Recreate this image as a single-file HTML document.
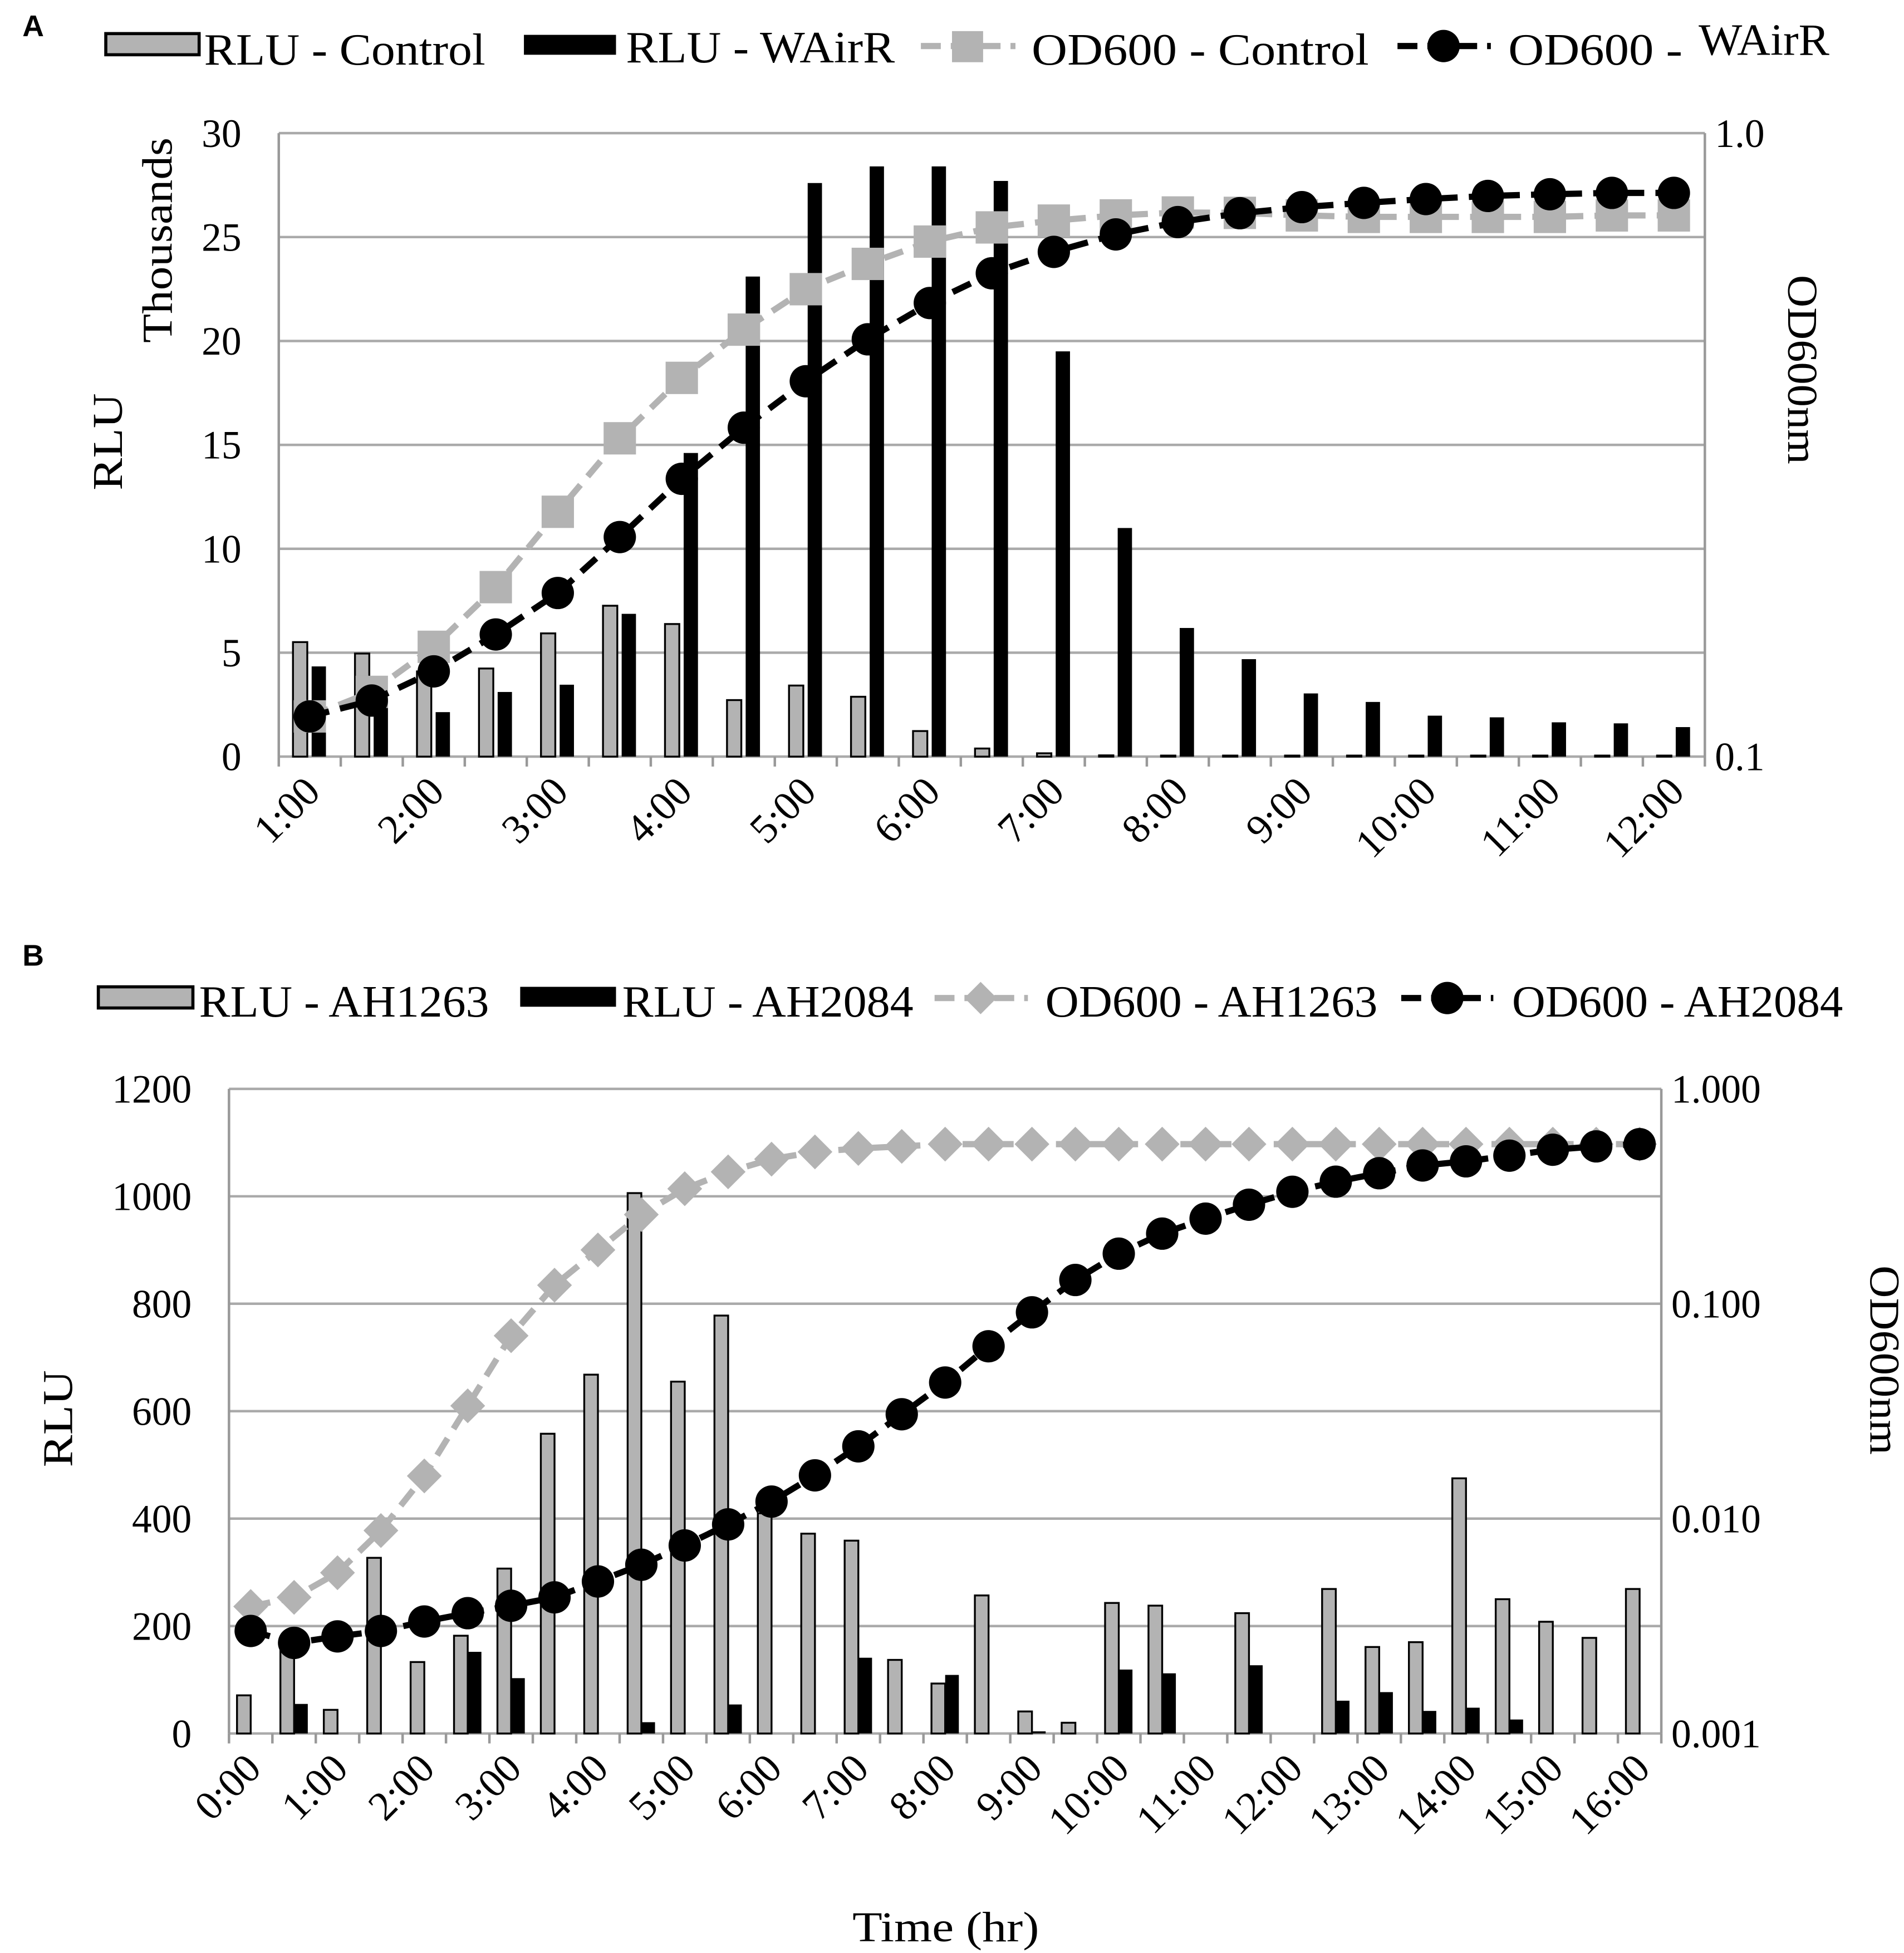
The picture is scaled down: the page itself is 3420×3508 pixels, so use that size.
<!DOCTYPE html>
<html><head><meta charset="utf-8"><style>
html,body{margin:0;padding:0;background:#fff}
svg{display:block}
text{font-family:"Liberation Serif",serif;fill:#000}
</style></head><body>
<svg id="fig" xmlns="http://www.w3.org/2000/svg" width="3420" height="3508" viewBox="0 0 1530 1569.4">
<rect width="1530" height="1569.4" fill="#fff"/>
<text x="18" y="29" style="font-family:'Liberation Sans',sans-serif;font-weight:bold;font-size:24px">A</text>
<text x="18" y="776" style="font-family:'Liberation Sans',sans-serif;font-weight:bold;font-size:24px">B</text>
<g id="legA">
 <rect x="85" y="27" width="75" height="17" fill="#b3b3b3" stroke="#000" stroke-width="2.5"/>
 <text x="164" y="52" font-size="36" textLength="226" lengthAdjust="spacingAndGlyphs">RLU - Control</text>
 <rect x="421" y="28" width="74" height="16" fill="#000"/>
 <text x="503" y="50" font-size="36" textLength="216" lengthAdjust="spacingAndGlyphs">RLU -  WAirR</text>
 <line x1="740" y1="37" x2="816" y2="37" stroke="#b3b3b3" stroke-width="5" stroke-dasharray="16,8"/>
 <rect x="765" y="25" width="25" height="25" fill="#b3b3b3"/>
 <text x="829" y="52" font-size="36" textLength="271" lengthAdjust="spacingAndGlyphs">OD600 - Control</text>
 <line x1="1123" y1="37" x2="1198" y2="37" stroke="#000" stroke-width="5" stroke-dasharray="16,8"/>
 <circle cx="1160" cy="37" r="13" fill="#000"/>
 <text x="1212" y="52" font-size="36" textLength="140" lengthAdjust="spacingAndGlyphs">OD600 - </text>
 <text x="1365" y="44" font-size="36" textLength="105" lengthAdjust="spacingAndGlyphs">WAirR</text>
</g>
<g id="legB">
 <rect x="79" y="793" width="76" height="17" fill="#b3b3b3" stroke="#000" stroke-width="2.5"/>
 <text x="160" y="817" font-size="36" textLength="233" lengthAdjust="spacingAndGlyphs">RLU - AH1263</text>
 <rect x="418" y="793" width="77" height="16" fill="#000"/>
 <text x="500" y="817" font-size="36" textLength="234" lengthAdjust="spacingAndGlyphs">RLU - AH2084</text>
 <line x1="751" y1="802" x2="826" y2="802" stroke="#b3b3b3" stroke-width="5" stroke-dasharray="16,8"/>
 <path d="M788 789 L801 802 L788 815 L775 802 Z" fill="#b3b3b3"/>
 <text x="840" y="817" font-size="36" textLength="267" lengthAdjust="spacingAndGlyphs">OD600 - AH1263</text>
 <line x1="1126" y1="802" x2="1200" y2="802" stroke="#000" stroke-width="5" stroke-dasharray="16,8"/>
 <circle cx="1163" cy="802" r="13" fill="#000"/>
 <text x="1215" y="817" font-size="36" textLength="266" lengthAdjust="spacingAndGlyphs">OD600 - AH2084</text>
</g>
<g id="chartA"></g>
<g id="chartB"></g>
</svg>
<script>
// ---------- Panel A data ----------
const catsA = ["1:00","1:30","2:00","2:30","3:00","3:30","4:00","4:30","5:00","5:30","6:00","6:30","7:00","7:30","8:00","8:30","9:00","9:30","10:00","10:30","11:00","11:30","12:00"];
const rluControlA = [5.51,4.96,4.1,4.24,5.93,7.26,6.38,2.72,3.42,2.88,1.23,0.39,0.16,0.06,0.05,0.05,0.05,0.05,0.05,0.05,0.05,0.05,0.05];
const rluWairrA = [4.34,3.0,2.14,3.11,3.46,6.87,14.61,23.1,27.6,28.4,28.4,27.7,19.5,11.0,6.19,4.69,3.04,2.63,1.97,1.89,1.65,1.60,1.42];
const odControlA = [0.116,0.127,0.150,0.187,0.247,0.324,0.405,0.484,0.562,0.617,0.670,0.706,0.724,0.738,0.746,0.745,0.738,0.734,0.734,0.734,0.734,0.738,0.738];
const odWairrA = [0.116,0.123,0.137,0.157,0.183,0.225,0.279,0.337,0.400,0.467,0.534,0.596,0.645,0.688,0.720,0.744,0.761,0.773,0.784,0.793,0.798,0.802,0.802];
const leftTicksA = [0,5,10,15,20,25,30];
const rightTicksA = ["0.1","1.0"];
// ---------- Panel B data ----------
const catsB = ["0:00","0:30","1:00","1:30","2:00","2:30","3:00","3:30","4:00","4:30","5:00","5:30","6:00","6:30","7:00","7:30","8:00","8:30","9:00","9:30","10:00","10:30","11:00","11:30","12:00","12:30","13:00","13:30","14:00","14:30","15:00","15:30","16:00"];
const rluAH1263 = [71,160,44,327,133,182,307,558,668,1006,655,778,410,372,359,137,93,257,41,20,243,238,0,224,0,269,161,170,475,250,208,178,269];
const rluAH2084 = [0,55,0,0,0,152,103,0,0,21,0,54,0,0,141,0,109,0,4,0,119,112,0,127,0,61,77,42,48,26,0,0,0];
const odAH1263 = [0.0039,0.0043,0.0056,0.0088,0.0158,0.0335,0.071,0.122,0.178,0.26,0.343,0.411,0.471,0.509,0.528,0.54,0.553,0.553,0.553,0.553,0.553,0.553,0.553,0.553,0.553,0.553,0.553,0.553,0.553,0.553,0.553,0.553,0.553];
const odAH2084 = [0.0030,0.00264,0.00283,0.0030,0.00332,0.00363,0.00393,0.0043,0.0051,0.0061,0.0075,0.0094,0.012,0.0159,0.0217,0.0306,0.043,0.0634,0.0912,0.129,0.171,0.212,0.249,0.289,0.332,0.370,0.405,0.44,0.46,0.489,0.521,0.54,0.553];
const leftTicksB = [0,200,400,600,800,1000,1200];
const rightTicksB = ["0.001","0.010","0.100","1.000"];

const NS="http://www.w3.org/2000/svg";
function mk(parent, tag, attrs, txt){
  const e=document.createElementNS(NS,tag);
  for(const k in attrs) e.setAttribute(k,attrs[k]);
  if(txt!==undefined) e.textContent=txt;
  parent.appendChild(e); return e;
}

function drawChart(g, o){
  const n=o.cats.length, band=(o.x1-o.x0)/n;
  const cx=i=>o.x0+band*(i+0.5);
  const yL=v=>o.y1-(v-o.lmin)/(o.lmax-o.lmin)*(o.y1-o.y0);
  const yR=v=>o.y1-(Math.log10(v)-o.rlogMin)/(o.rlogMax-o.rlogMin)*(o.y1-o.y0);
  o.leftTicks.forEach(t=>{
    const y=yL(t);
    const gl=mk(g,'line',{x1:o.x0,x2:o.x1,y1:y,y2:y,stroke:'#aaa','stroke-width':2});
    
    
    const tl=mk(g,'text',{x:o.x0-30,y:y+11,'text-anchor':'end','font-size':32},String(t));
    
    
  });
  const al=mk(g,'line',{x1:o.x0,x2:o.x0,y1:o.y0,y2:o.y1,stroke:'#999','stroke-width':2});
  
  
  const ar=mk(g,'line',{x1:o.x1,x2:o.x1,y1:o.y0,y2:o.y1,stroke:'#999','stroke-width':2});
  
  
  o.rightTicks.forEach(t=>{
    const y=yR(parseFloat(t));
    const tl=mk(g,'text',{x:o.x1+8,y:y+11,'font-size':32},t);
    
    
  });
  for(let i=0;i<=n;i++){
    const x=o.x0+band*i;
    const tk=mk(g,'line',{x1:x,x2:x,y1:o.y1,y2:o.y1+8,stroke:'#999','stroke-width':2});
    
    
  }
  o.cats.forEach((c,i)=>{
    if(i%2) return;
    const x=cx(i)+10, y=o.y1+30;
    const tl=mk(g,'text',{x:x,y:y,'text-anchor':'end','font-size':33,transform:`rotate(-45 ${x} ${y})`},c);
    
    
  });
  o.bars1.forEach((v,i)=>{
    if(v<=0) return;
    const y=yL(v);
    const b=mk(g,'rect',{x:cx(i)+o.b1off,y:y,width:o.bw,height:Math.max(o.y1-y,0.5),fill:'#b3b3b3',stroke:'#000','stroke-width':1.5});
    
    
  });
  o.bars2.forEach((v,i)=>{
    if(v<=0) return;
    const y=yL(v);
    const b=mk(g,'rect',{x:cx(i)+o.b2off,y:y,width:o.bw,height:o.y1-y,fill:'#000'});
    
    
  });
  function line(vals,color,name,marker){
    const pts=vals.map((v,i)=>cx(i)+','+yR(v)).join(' ');
    const pl=mk(g,'polyline',{points:pts,fill:'none',stroke:color,'stroke-width':5,'stroke-dasharray':'16,9'});
    
    
    vals.forEach((v,i)=>{
      const x=cx(i),y=yR(v);
      let m;
      if(marker==='sq') m=mk(g,'rect',{x:x-13,y:y-13,width:26,height:26,fill:color});
      else if(marker==='dia') m=mk(g,'path',{d:`M${x} ${y-14} L${x+14} ${y} L${x} ${y+14} L${x-14} ${y} Z`,fill:color});
      else m=mk(g,'circle',{cx:x,cy:y,r:13,fill:color});
      
      
    });
  }
  line(o.line1,'#b3b3b3',o.l1,o.m1);
  line(o.line2,'#000',o.l2,'circle');
}

drawChart(document.getElementById('chartA'),{
  cats:catsA,x0:224,x1:1370,y0:107,y1:608,lmin:0,lmax:30,rlogMin:-1,rlogMax:0,
  leftTicks:leftTicksA,rightTicks:rightTicksA,bars1:rluControlA,bars2:rluWairrA,
  s1:'rlu-control',s2:'rlu-wairr',b1off:-13.5,b2off:1.5,bw:11.5,
  line1:odControlA,line2:odWairrA,l1:'od-control',l2:'od-wairr',m1:'sq'
});
drawChart(document.getElementById('chartB'),{
  cats:catsB,x0:184,x1:1335,y0:875,y1:1393,lmin:0,lmax:1200,rlogMin:-3,rlogMax:0,
  leftTicks:leftTicksB,rightTicks:rightTicksB,bars1:rluAH1263,bars2:rluAH2084,
  s1:'rlu-ah1263',s2:'rlu-ah2084',b1off:-11,b2off:0,bw:11,
  line1:odAH1263,line2:odAH2084,l1:'od-ah1263',l2:'od-ah2084',m1:'dia'
});

const svg=document.getElementById('fig');
function title(txt,x,y,rot,name,len){
  const t=mk(svg,'text',{x:x,y:y,'text-anchor':'middle','font-size':34,transform:rot?`rotate(${rot} ${x} ${y})`:'' ,textLength:len,lengthAdjust:'spacingAndGlyphs'},txt);
  
  
}
title('Thousands',138,193,-90,'y-axis-unit-a',165);
title('RLU',98,355,-90,'y-axis-title-a',78);
title('OD600nm',1437,297,90,'y2-axis-title-a',152);
title('RLU',58,1140,-90,'y-axis-title-b',78);
title('OD600nm',1503,1093,90,'y2-axis-title-b',152);
title('Time (hr)',760,1560,0,'x-axis-title',150);
</script>
</body></html>
